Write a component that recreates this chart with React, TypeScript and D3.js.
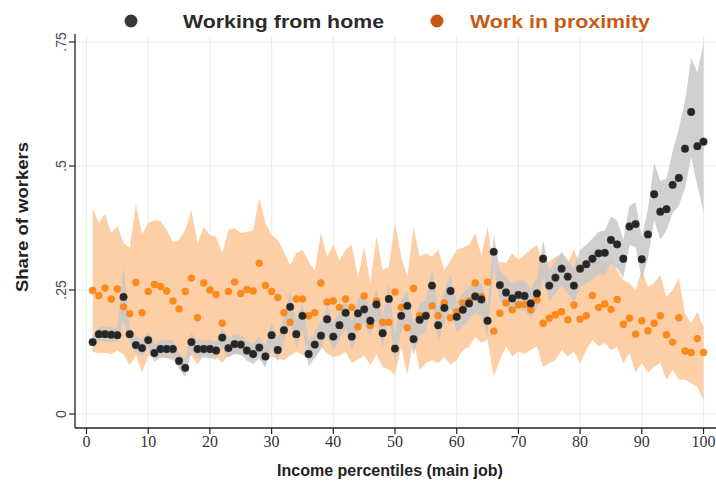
import React from "react";
import * as d3 from "d3";

const percentiles: number[] = Array.from({ length: 100 }, (_, i) => i + 1);

const wfhMean: number[] = [
  0.145, 0.161, 0.161, 0.160, 0.159, 0.236, 0.161, 0.139, 0.133, 0.149,
  0.123, 0.131, 0.131, 0.131, 0.107, 0.093, 0.145, 0.131, 0.131, 0.131,
  0.128, 0.154, 0.133, 0.141, 0.140, 0.128, 0.121, 0.134, 0.116, 0.159,
  0.129, 0.169, 0.216, 0.161, 0.198, 0.121, 0.140, 0.158, 0.191, 0.156,
  0.179, 0.204, 0.156, 0.203, 0.211, 0.188, 0.221, 0.163, 0.232, 0.132,
  0.198, 0.218, 0.151, 0.190, 0.198, 0.259, 0.179, 0.214, 0.248, 0.196,
  0.210, 0.223, 0.237, 0.231, 0.188, 0.327, 0.260, 0.245, 0.233, 0.240,
  0.238, 0.223, 0.243, 0.313, 0.259, 0.275, 0.293, 0.277, 0.259, 0.293,
  0.302, 0.313, 0.324, 0.325, 0.351, 0.342, 0.313, 0.378, 0.383, 0.312,
  0.362, 0.443, 0.408, 0.413, 0.462, 0.476, 0.535, 0.609, 0.540, 0.549,
];

const wfhHi: number[] = [
  0.158, 0.175, 0.176, 0.175, 0.174, 0.298, 0.176, 0.155, 0.150, 0.166,
  0.140, 0.148, 0.149, 0.149, 0.124, 0.112, 0.164, 0.148, 0.148, 0.149,
  0.146, 0.176, 0.152, 0.161, 0.160, 0.148, 0.141, 0.156, 0.138, 0.184,
  0.152, 0.196, 0.246, 0.188, 0.226, 0.146, 0.166, 0.186, 0.221, 0.184,
  0.208, 0.234, 0.184, 0.233, 0.242, 0.218, 0.252, 0.193, 0.264, 0.162,
  0.229, 0.250, 0.182, 0.222, 0.230, 0.294, 0.211, 0.247, 0.282, 0.228,
  0.243, 0.256, 0.270, 0.264, 0.220, 0.362, 0.290, 0.275, 0.263, 0.270,
  0.268, 0.253, 0.273, 0.350, 0.290, 0.307, 0.327, 0.311, 0.294, 0.330,
  0.341, 0.354, 0.367, 0.370, 0.398, 0.390, 0.352, 0.420, 0.427, 0.357,
  0.414, 0.506, 0.470, 0.475, 0.530, 0.575, 0.630, 0.718, 0.688, 0.748,
];

const wfhLo: number[] = [
  0.128, 0.147, 0.146, 0.145, 0.144, 0.190, 0.146, 0.123, 0.117, 0.132,
  0.106, 0.114, 0.113, 0.113, 0.090, 0.075, 0.127, 0.114, 0.114, 0.113,
  0.110, 0.133, 0.114, 0.121, 0.120, 0.108, 0.101, 0.112, 0.094, 0.134,
  0.106, 0.142, 0.186, 0.134, 0.170, 0.096, 0.114, 0.130, 0.161, 0.128,
  0.150, 0.174, 0.128, 0.173, 0.180, 0.158, 0.190, 0.133, 0.200, 0.102,
  0.167, 0.186, 0.120, 0.158, 0.166, 0.224, 0.147, 0.181, 0.214, 0.164,
  0.177, 0.190, 0.204, 0.198, 0.156, 0.292, 0.230, 0.215, 0.203, 0.210,
  0.208, 0.193, 0.213, 0.276, 0.228, 0.243, 0.259, 0.243, 0.224, 0.256,
  0.263, 0.272, 0.281, 0.280, 0.304, 0.294, 0.274, 0.340, 0.337, 0.270,
  0.314, 0.390, 0.352, 0.370, 0.405, 0.420, 0.455, 0.518, 0.460, 0.407,
];

const proxMean: number[] = [
  0.249, 0.239, 0.254, 0.232, 0.252, 0.216, 0.202, 0.265, 0.204, 0.247,
  0.261, 0.257, 0.248, 0.228, 0.212, 0.247, 0.274, 0.194, 0.264, 0.250,
  0.241, 0.183, 0.247, 0.266, 0.243, 0.251, 0.248, 0.304, 0.259, 0.247,
  0.235, 0.204, 0.185, 0.232, 0.232, 0.198, 0.204, 0.264, 0.226, 0.228,
  0.215, 0.232, 0.215, 0.176, 0.238, 0.179, 0.228, 0.185, 0.185, 0.246,
  0.215, 0.174, 0.253, 0.198, 0.199, 0.218, 0.198, 0.224, 0.194, 0.206,
  0.224, 0.228, 0.264, 0.237, 0.266, 0.167, 0.203, 0.224, 0.210, 0.220,
  0.221, 0.210, 0.230, 0.183, 0.193, 0.200, 0.206, 0.190, 0.220, 0.191,
  0.198, 0.239, 0.215, 0.222, 0.211, 0.231, 0.181, 0.193, 0.161, 0.188,
  0.168, 0.183, 0.198, 0.160, 0.145, 0.194, 0.127, 0.124, 0.152, 0.124,
];

const proxHi: number[] = [
  0.415, 0.385, 0.403, 0.365, 0.379, 0.345, 0.335, 0.423, 0.363, 0.385,
  0.391, 0.389, 0.371, 0.347, 0.351, 0.371, 0.411, 0.345, 0.377, 0.361,
  0.357, 0.324, 0.371, 0.375, 0.365, 0.367, 0.371, 0.435, 0.385, 0.361,
  0.351, 0.327, 0.300, 0.324, 0.331, 0.307, 0.290, 0.365, 0.317, 0.341,
  0.310, 0.331, 0.341, 0.274, 0.337, 0.264, 0.357, 0.290, 0.297, 0.385,
  0.317, 0.276, 0.377, 0.317, 0.324, 0.317, 0.331, 0.290, 0.310, 0.331,
  0.335, 0.341, 0.365, 0.320, 0.377, 0.297, 0.307, 0.304, 0.324, 0.311,
  0.321, 0.331, 0.341, 0.300, 0.307, 0.317, 0.321, 0.304, 0.331, 0.300,
  0.310, 0.335, 0.315, 0.304, 0.317, 0.290, 0.270, 0.264, 0.250, 0.290,
  0.256, 0.264, 0.280, 0.236, 0.250, 0.274, 0.203, 0.183, 0.206, 0.176,
];

const proxLo: number[] = [
  0.125, 0.123, 0.123, 0.121, 0.128, 0.120, 0.099, 0.118, 0.083, 0.118,
  0.112, 0.115, 0.113, 0.108, 0.105, 0.110, 0.118, 0.099, 0.120, 0.118,
  0.115, 0.103, 0.118, 0.122, 0.118, 0.120, 0.118, 0.135, 0.120, 0.115,
  0.112, 0.108, 0.118, 0.125, 0.120, 0.109, 0.112, 0.135, 0.122, 0.115,
  0.118, 0.125, 0.103, 0.110, 0.118, 0.099, 0.120, 0.095, 0.089, 0.079,
  0.135, 0.079, 0.149, 0.089, 0.103, 0.109, 0.103, 0.115, 0.100, 0.109,
  0.129, 0.135, 0.155, 0.143, 0.150, 0.075, 0.109, 0.136, 0.116, 0.126,
  0.121, 0.129, 0.136, 0.095, 0.103, 0.109, 0.129, 0.116, 0.126, 0.103,
  0.129, 0.149, 0.136, 0.143, 0.129, 0.135, 0.103, 0.123, 0.083, 0.103,
  0.083, 0.095, 0.103, 0.069, 0.089, 0.069, 0.069, 0.062, 0.055, 0.028,
];

const xTicks: number[] = [0, 10, 20, 30, 40, 50, 60, 70, 80, 90, 100];
const yTicks: number[] = [0, 0.25, 0.5, 0.75];
const yTickLabels: string[] = ["0", ".25", ".5", ".75"];

const W = 716;
const H = 482;

export default function App() {
  const x = d3.scaleLinear().domain([0, 100]).range([86.5, 703.5]);
  const y = d3.scaleLinear().domain([0, 0.75]).range([414, 42]);

  const areaGen = (lo: number[], hi: number[]) =>
    d3
      .area<number>()
      .x((p) => x(p))
      .y0((_, i) => y(lo[i]))
      .y1((_, i) => y(hi[i]))(percentiles) || "";

  const axisLeft = 75;
  const axisBottom = 428;
  const sans = "Liberation Sans, Arial, sans-serif";

  return (
    <svg
      width={W}
      height={H}
      style={{ position: "absolute", left: 0, top: 0, background: "#fff" }}
      xmlns="http://www.w3.org/2000/svg"
    >
      <rect x={0} y={0} width={W} height={H} fill="#ffffff" />
      {xTicks.map((t) => (
        <line key={"gx" + t} x1={x(t)} x2={x(t)} y1={36} y2={axisBottom} stroke="#e6eff1" strokeWidth={1.2} />
      ))}
      {yTicks.map((t) => (
        <line key={"gy" + t} x1={axisLeft} x2={W} y1={y(t)} y2={y(t)} stroke="#e6eff1" strokeWidth={1.2} />
      ))}
      <path d={areaGen(proxLo, proxHi)} fill="#fdcfa6" />
      <path d={areaGen(wfhLo, wfhHi)} fill="#c8c8c8" fillOpacity={0.85} />
      {percentiles.map((p, i) => (
        <circle key={"o" + p} cx={x(p)} cy={y(proxMean[i])} r={3.7} fill="#fb8a1c" />
      ))}
      {percentiles.map((p, i) => (
        <circle key={"b" + p} cx={x(p)} cy={y(wfhMean[i])} r={3.9} fill="#262626" stroke="#555" strokeOpacity={0.4} strokeWidth={0.8} />
      ))}
      <line x1={axisLeft} x2={axisLeft} y1={34} y2={axisBottom} stroke="#222" strokeWidth={1.3} />
      <line x1={axisLeft} x2={W} y1={axisBottom} y2={axisBottom} stroke="#222" strokeWidth={1.3} />
      {yTicks.map((t, i) => (
        <g key={"yt" + t}>
          <line x1={axisLeft - 6} x2={axisLeft} y1={y(t)} y2={y(t)} stroke="#222" strokeWidth={1.2} />
          <text
            transform={`translate(${axisLeft - 9},${y(t)}) rotate(-90)`}
            textAnchor="middle"
            fontFamily={sans}
            fontSize={14}
            fill="#3c4a5a"
          >
            {yTickLabels[i]}
          </text>
        </g>
      ))}
      {xTicks.map((t) => (
        <g key={"xt" + t}>
          <line x1={x(t)} x2={x(t)} y1={axisBottom} y2={axisBottom + 6} stroke="#222" strokeWidth={1.2} />
          <text
            x={x(t)}
            y={axisBottom + 19}
            textAnchor="middle"
            fontFamily="Liberation Serif, Times New Roman, serif"
            fontSize={16}
            fill="#333"
          >
            {t}
          </text>
        </g>
      ))}
      <text x={390} y={476} textAnchor="middle" fontFamily={sans} fontWeight="bold" fontSize={16} fill="#222">
        Income percentiles (main job)
      </text>
      <text
        transform={`translate(28,217) rotate(-90)`}
        textAnchor="middle"
        fontFamily={sans}
        fontWeight="bold"
        fontSize={17}
        textLength={150}
        lengthAdjust="spacingAndGlyphs"
        fill="#222"
      >
        Share of workers
      </text>
      <circle cx={131} cy={21} r={6.5} fill="#383838" />
      <text x={183} y={28} fontFamily={sans} fontWeight="bold" fontSize={19} textLength={201} lengthAdjust="spacingAndGlyphs" fill="#2b2b2b">
        Working from home
      </text>
      <circle cx={437} cy={21} r={6.5} fill="#c65a12" />
      <text x={470} y={28} fontFamily={sans} fontWeight="bold" fontSize={19} textLength={180} lengthAdjust="spacingAndGlyphs" fill="#c65a12">
        Work in proximity
      </text>
    </svg>
  );
}
